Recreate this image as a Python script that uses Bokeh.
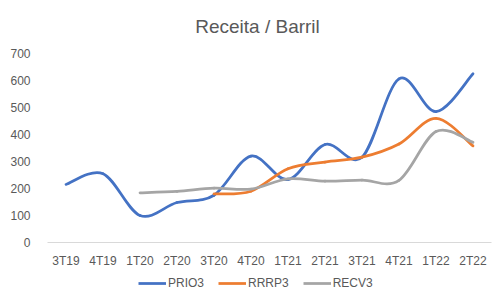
from bokeh.plotting import figure
from bokeh.layouts import column
from bokeh.models import Legend, LegendItem, FixedTicker, Range1d, ColumnDataSource, Label
from bokeh.embed import file_html
from bokeh.resources import INLINE

categories = ["3T19", "4T19", "1T20", "2T20", "3T20", "4T20",
              "1T21", "2T21", "3T21", "4T21", "1T22", "2T22"]
prio3 = [215, 255, 100, 148, 175, 320, 233, 363, 316, 606, 485, 625]
rrrp3 = [None, None, None, None, 180, 190, 273, 298, 316, 365, 460, 358]
recv3 = [None, None, 184, 189, 201, 198, 236, 227, 231, 230, 411, 371]
yticks = [0, 100, 200, 300, 400, 500, 600, 700]

series = [("PRIO3", prio3, "#4472C4"),
          ("RRRP3", rrrp3, "#ED7D31"),
          ("RECV3", recv3, "#A5A5A5")]

FONT = "Liberation Sans"
TXT = "#595959"
W = 498
LB, RB = 47, 7


def strip(height):
    f = figure(width=W, height=height, output_backend="svg", toolbar_location=None,
               x_range=Range1d(LB, W - RB), y_range=Range1d(0, height),
               x_axis_location=None, y_axis_location=None,
               min_border_left=LB, min_border_right=RB,
               min_border_top=0, min_border_bottom=0)
    f.outline_line_color = None
    f.xgrid.visible = False
    f.ygrid.visible = False
    f.background_fill_color = "white"
    f.border_fill_color = "white"
    return f


# title strip
tfig = strip(40)
tfig.add_layout(Label(x=257, y=14, text="Receita / Barril", text_align="center",
                      text_baseline="middle", text_font=FONT, text_font_size="19px",
                      text_color=TXT))

# main chart
p = figure(width=W, height=230, output_backend="svg", toolbar_location=None,
           x_range=Range1d(-0.5, len(categories) - 0.5), y_range=Range1d(0, 700),
           min_border_left=LB, min_border_right=RB, min_border_top=13, min_border_bottom=28)
p.outline_line_color = None
p.background_fill_color = "white"
p.border_fill_color = "white"
p.xgrid.visible = False
p.ygrid.visible = False


def bezier_source(vals):
    pts = [(i, v) for i, v in enumerate(vals) if v is not None]
    d = dict(x0=[], y0=[], x1=[], y1=[], cx0=[], cy0=[], cx1=[], cy1=[])
    n = len(pts)
    for j in range(n - 1):
        p0 = pts[j - 1] if j > 0 else pts[j]
        p1 = pts[j]
        p2 = pts[j + 1]
        p3 = pts[j + 2] if j + 2 < n else pts[j + 1]
        d["x0"].append(p1[0]); d["y0"].append(p1[1])
        d["x1"].append(p2[0]); d["y1"].append(p2[1])
        d["cx0"].append(p1[0] + (p2[0] - p0[0]) / 6)
        d["cy0"].append(p1[1] + (p2[1] - p0[1]) / 6)
        d["cx1"].append(p2[0] - (p3[0] - p1[0]) / 6)
        d["cy1"].append(p2[1] - (p3[1] - p1[1]) / 6)
    return ColumnDataSource(d)


for name, vals, color in series:
    p.bezier(x0="x0", y0="y0", x1="x1", y1="y1", cx0="cx0", cy0="cy0",
             cx1="cx1", cy1="cy1", source=bezier_source(vals),
             line_color=color, line_width=2.75, line_cap="round")

xa = p.xaxis[0]
xa.ticker = FixedTicker(ticks=list(range(len(categories))))
xa.major_label_overrides = {i: c for i, c in enumerate(categories)}
xa.axis_line_color = "#D9D9D9"
xa.axis_line_width = 1
xa.major_tick_line_color = None
xa.minor_tick_line_color = None
xa.major_label_text_font = FONT
xa.major_label_text_font_size = "12px"
xa.major_label_text_color = TXT
xa.major_label_standoff = 5

ya = p.yaxis[0]
ya.ticker = FixedTicker(ticks=yticks)
ya.axis_line_color = None
ya.major_tick_line_color = None
ya.minor_tick_line_color = None
ya.major_label_text_font = FONT
ya.major_label_text_font_size = "12px"
ya.major_label_text_color = TXT
ya.major_label_standoff = 11

# legend strip (legend lines reuse the series, which fall outside this strip's view)
lg = strip(35)
items = []
for name, vals, color in series:
    xs = [i for i, v in enumerate(vals) if v is not None]
    ys = [v for v in vals if v is not None]
    r = lg.line(x=xs, y=ys, line_color=color, line_width=2.75)
    items.append(LegendItem(label=name, renderers=[r]))

legend = Legend(items=items, orientation="horizontal", location=(91, 15),
                label_text_font=FONT, label_text_font_size="12px",
                label_text_color=TXT, glyph_width=28, glyph_height=14,
                label_standoff=2, spacing=14, padding=0, margin=0,
                border_line_color=None, background_fill_alpha=0)
lg.add_layout(legend, "center")

layout = column(tfig, p, lg, spacing=0)
open("out.html", "w").write(file_html(layout, INLINE))
